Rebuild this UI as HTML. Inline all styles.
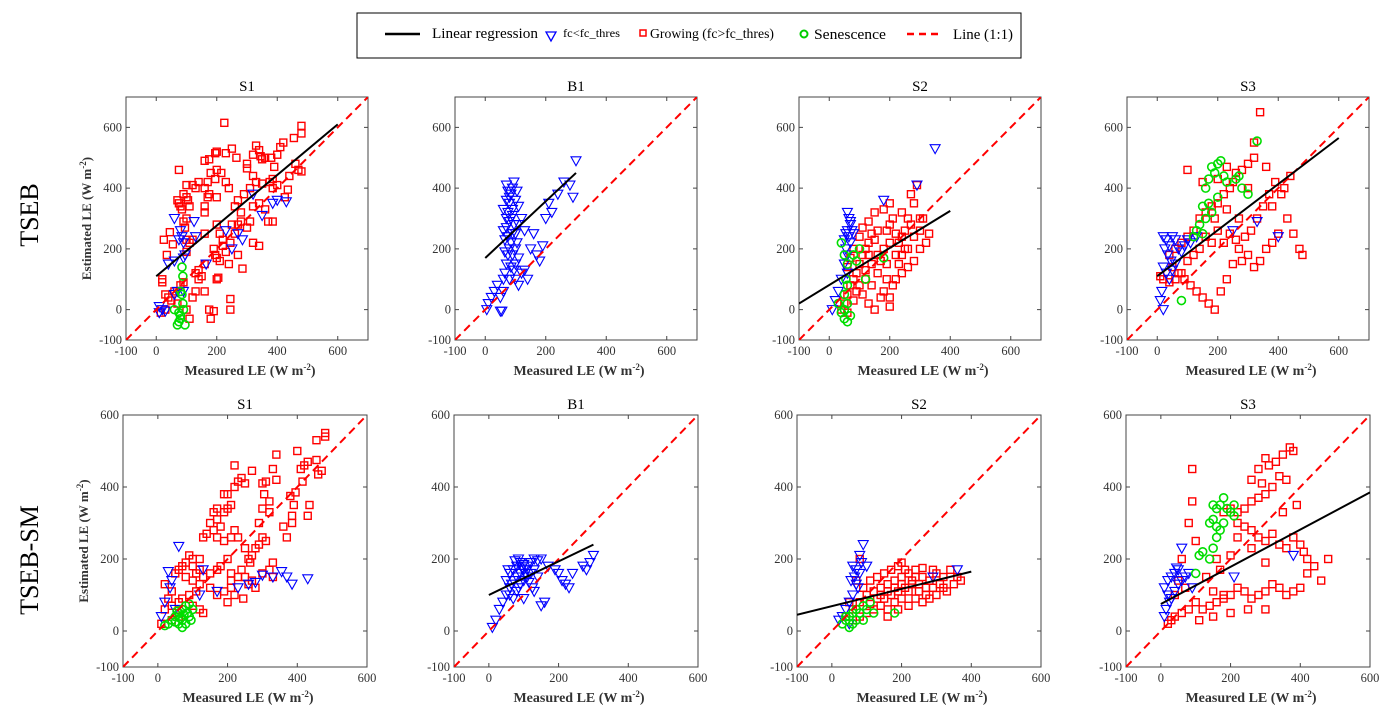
<!DOCTYPE html>
<html><head><meta charset="utf-8"><style>
html,body{margin:0;padding:0;background:#fff;}
svg{display:block;font-family:"Liberation Serif",serif;}
</style></head><body>
<svg id="fig" width="1392" height="720" viewBox="0 0 1392 720" xmlns="http://www.w3.org/2000/svg">
<g>
<rect x="357" y="13" width="664" height="45" fill="#fff" stroke="#000" stroke-width="1"/>
<line x1="385" y1="34" x2="420" y2="34" stroke="#000" stroke-width="2.5"/>
<text x="432" y="38" font-size="15" textLength="106" lengthAdjust="spacingAndGlyphs">Linear regression</text>
<polygon points="546,32 556,32 551,41" fill="none" stroke="#0000ff" stroke-width="1.3"/>
<text x="563" y="37" font-size="12" textLength="57" lengthAdjust="spacingAndGlyphs">fc&lt;fc_thres</text>
<rect x="640" y="30" width="6" height="6" fill="none" stroke="#f00" stroke-width="1.5"/>
<text x="650" y="38" font-size="14" textLength="124" lengthAdjust="spacingAndGlyphs">Growing (fc&gt;fc_thres)</text>
<circle cx="804" cy="34" r="3.5" fill="none" stroke="#0c0" stroke-width="2"/>
<text x="814" y="39" font-size="15" textLength="72" lengthAdjust="spacingAndGlyphs">Senescence</text>
<line x1="907" y1="34" x2="940" y2="34" stroke="#f00" stroke-width="2.5" stroke-dasharray="7,5"/>
<text x="953" y="39" font-size="15" textLength="60" lengthAdjust="spacingAndGlyphs">Line (1:1)</text>
</g>
<text x="38" y="215" font-size="26" text-anchor="middle" transform="rotate(-90 38 215)">TSEB</text>
<text x="38" y="560" font-size="26" text-anchor="middle" transform="rotate(-90 38 560)">TSEB-SM</text>
</svg>
<script>
// ---------- data ----------
const panelTitles = ["S1","B1","S2","S3"];
const topTicks = [-100,0,200,400,600];
const botTicks = [-100,0,200,400,600];
const topRange = [-100,700];
const botRange = [-100,600];
// regression lines [x1,y1,x2,y2]
const regTop = [[0,110,600,610],[0,170,300,450],[-100,20,400,325],[0,110,600,565]];
const regBot = [null,[0,100,300,240],[-100,45,400,165],[0,75,600,385]];

const t1Red=[[225,615],[480,605],[480,580],[455,565],[420,550],[410,535],[330,540],[340,525],[345,505],[350,495],[250,530],[230,515],[195,515],[200,520],[175,495],[160,490],[265,500],[300,480],[300,465],[320,510],[360,500],[380,500],[400,510],[460,480],[470,460],[480,455],[440,440],[435,395],[390,470],[385,430],[375,420],[350,415],[330,420],[320,440],[310,400],[290,380],[270,360],[260,340],[240,400],[230,420],[215,450],[200,460],[195,430],[180,450],[170,420],[160,400],[140,420],[120,410],[130,400],[100,410],[90,380],[75,460],[70,360],[75,350],[80,340],[85,330],[100,370],[105,360],[110,340],[100,300],[90,290],[95,270],[100,230],[110,220],[120,230],[170,370],[175,380],[160,340],[160,320],[200,370],[200,280],[210,250],[220,230],[190,200],[195,180],[200,170],[210,160],[220,210],[230,190],[240,150],[245,220],[260,250],[250,280],[280,320],[280,290],[270,280],[270,180],[300,270],[310,290],[320,220],[340,210],[320,340],[340,350],[360,330],[370,290],[385,290],[385,400],[400,410],[425,370],[160,250],[160,150],[140,130],[130,120],[140,100],[150,110],[160,60],[130,60],[120,40],[110,-30],[180,-30],[175,0],[190,-5],[245,35],[245,0],[100,0],[60,60],[40,40],[30,50],[20,100],[20,90],[45,255],[25,230],[35,180],[55,215],[285,135],[200,100],[205,105],[90,90],[80,80],[30,0],[15,-10],[50,30],[70,20],[100,190]];
const t1Blue=[[10,10],[20,0],[30,-5],[10,-10],[60,300],[80,260],[85,240],[75,230],[90,220],[125,290],[130,240],[60,160],[90,170],[95,180],[40,150],[165,150],[230,260],[250,200],[270,250],[285,230],[320,380],[350,310],[385,350],[430,355],[400,360],[90,60],[70,60],[60,50]];
const t1Green=[[85,140],[88,110],[80,60],[85,50],[60,0],[75,-10],[80,-20],[90,0],[95,-50],[70,-50],[75,-40],[88,20],[80,-30]];

const t2Red=[];
const t2Blue=[[5,0],[10,20],[20,40],[30,60],[40,80],[50,-5],[55,-5],[60,100],[65,120],[70,150],[75,180],[80,200],[85,220],[90,250],[95,280],[70,300],[75,320],[80,350],[85,380],[90,400],[95,420],[70,410],[75,390],[80,370],[85,300],[90,330],[100,360],[105,390],[110,340],[60,260],[65,230],[70,270],[75,240],[80,290],[90,180],[100,200],[100,150],[110,170],[120,120],[130,130],[140,100],[150,200],[160,250],[170,180],[180,160],[190,210],[200,300],[210,350],[220,320],[240,380],[260,420],[280,410],[300,490],[290,370],[120,300],[130,260],[110,280],[60,60],[50,40],[100,100],[110,80],[85,140],[95,130],[80,100],[65,190],[60,330],[70,360],[100,250],[90,310],[105,220]];
const t2Green=[];

const t3Red=[[40,0],[50,20],[60,50],[70,80],[80,100],[90,120],[100,150],[110,180],[120,200],[130,220],[140,250],[150,230],[160,180],[170,160],[180,200],[190,260],[200,280],[210,300],[220,250],[230,220],[240,180],[250,260],[260,300],[270,380],[280,350],[290,410],[300,300],[200,350],[180,330],[150,320],[130,290],[110,270],[100,240],[80,200],[70,170],[60,140],[120,100],[140,80],[160,120],[180,60],[200,40],[210,80],[220,100],[240,120],[260,140],[280,160],[300,200],[320,220],[330,250],[250,200],[230,150],[190,100],[170,40],[150,0],[130,20],[110,50],[90,60],[160,260],[200,220],[220,180],[260,200],[240,240],[280,240],[300,260],[310,300],[190,150],[140,150],[120,130],[100,80],[80,30],[60,-10],[200,10],[130,180],[240,320],[270,280]];
const t3Blue=[[60,320],[65,300],[70,280],[60,260],[55,250],[50,230],[55,200],[60,180],[70,220],[65,240],[50,150],[60,120],[40,100],[30,60],[20,30],[10,0],[350,530],[290,410],[180,360],[80,250],[75,260],[70,290]];
const t3Green=[[40,220],[50,180],[60,150],[80,180],[90,160],[100,200],[55,100],[60,80],[50,50],[60,20],[40,-10],[50,-30],[60,-40],[70,-20],[30,20],[180,170],[120,100],[50,0]];

const t4Red=[[340,650],[320,500],[300,480],[280,460],[260,450],[250,420],[240,400],[220,380],[200,350],[180,340],[160,320],[140,300],[120,260],[100,240],[80,220],[60,200],[40,180],[50,140],[70,120],[90,100],[110,80],[130,60],[150,40],[170,20],[190,0],[210,60],[230,100],[250,150],[270,200],[290,240],[310,260],[330,300],[350,340],[370,380],[390,420],[410,380],[430,300],[450,250],[470,200],[480,180],[400,250],[380,220],[360,200],[340,160],[320,140],[300,180],[280,160],[260,230],[240,250],[220,220],[200,260],[180,220],[160,240],[140,200],[120,180],[100,160],[80,120],[60,100],[40,90],[20,100],[10,110],[100,460],[150,420],[200,430],[230,470],[300,400],[320,550],[360,470],[420,400],[440,440],[380,340],[270,300],[230,330],[190,300]];
const t4Blue=[[20,240],[30,230],[40,210],[25,200],[35,180],[45,160],[20,140],[30,120],[40,100],[15,60],[10,30],[20,0],[50,240],[60,230],[70,200],[80,190],[90,210],[100,230],[110,220],[60,150],[50,130],[130,240],[250,260],[330,290],[400,240]];
const t4Green=[[330,555],[210,490],[200,480],[180,470],[170,430],[160,400],[190,450],[220,440],[230,420],[260,430],[270,440],[280,400],[300,380],[170,350],[150,340],[160,300],[140,280],[130,260],[120,240],[150,250],[80,30],[200,370],[180,320]];

const b1Red=[[480,550],[480,540],[455,530],[470,445],[460,435],[455,475],[430,470],[420,460],[400,500],[410,450],[415,415],[395,385],[380,375],[390,350],[435,350],[430,320],[385,320],[385,300],[370,260],[360,290],[340,490],[330,450],[340,420],[310,415],[300,410],[305,380],[320,360],[320,330],[300,340],[290,300],[300,260],[310,250],[290,240],[280,230],[270,210],[260,200],[250,230],[265,190],[230,415],[240,425],[270,445],[220,460],[250,410],[220,400],[200,380],[190,380],[210,350],[200,340],[190,330],[170,340],[160,330],[170,310],[150,300],[160,280],[140,270],[130,260],[170,260],[180,290],[220,280],[230,260],[210,260],[190,250],[180,180],[170,170],[150,160],[130,150],[150,120],[170,100],[190,110],[210,120],[210,140],[230,150],[240,170],[250,150],[260,130],[280,120],[220,100],[200,80],[245,90],[100,200],[90,210],[80,190],[70,180],[60,170],[50,160],[80,150],[100,140],[120,130],[110,110],[90,100],[70,90],[60,80],[40,70],[20,60],[30,90],[40,110],[20,130],[10,20],[40,30],[60,40],[100,70],[120,60],[130,50],[270,140],[300,160],[320,170],[330,150],[200,200],[210,160],[120,170],[120,200],[100,180],[110,160],[330,190]];
const b1Blue=[[60,235],[30,165],[40,140],[35,120],[20,80],[10,40],[300,155],[330,150],[355,165],[370,150],[385,130],[430,145],[230,120],[260,130],[280,135],[170,110],[120,100],[130,170],[50,60]];
const b1Green=[[20,15],[30,20],[40,30],[50,40],[60,50],[70,60],[80,70],[90,75],[70,30],[80,20],[90,40],[60,20],[50,25],[100,60],[85,50],[75,45],[65,35],[55,55],[95,30],[70,10]];

const b2Red=[];
const b2Blue=[[10,10],[20,30],[30,60],[40,80],[50,100],[60,120],[70,140],[80,150],[90,160],[100,170],[110,180],[120,190],[130,200],[140,195],[150,200],[60,160],[70,170],[80,180],[90,190],[100,185],[110,170],[60,100],[70,90],[80,110],[90,130],[100,140],[110,150],[120,160],[130,170],[140,150],[50,140],[55,170],[75,195],[85,200],[95,175],[105,160],[115,135],[125,120],[65,130],[85,120],[150,70],[160,80],[200,160],[210,140],[220,130],[230,120],[240,160],[270,180],[290,190],[300,210],[280,170],[100,90],[130,110],[190,170],[170,180]];
const b2Green=[];

const b3Red=[[40,40],[60,60],[80,80],[100,100],[120,110],[140,120],[160,130],[180,140],[200,150],[220,160],[240,170],[260,150],[280,140],[300,160],[320,150],[340,170],[360,150],[370,140],[150,90],[170,100],[190,110],[210,120],[230,130],[250,110],[270,100],[290,120],[310,130],[330,110],[120,60],[140,70],[160,60],[180,80],[200,90],[220,70],[240,90],[260,80],[280,90],[300,100],[100,50],[80,40],[60,30],[90,120],[110,140],[130,150],[150,160],[170,170],[190,180],[210,170],[230,140],[250,130],[200,190],[80,200],[70,140],[50,80],[160,40],[190,60],[220,110],[270,120],[320,120],[350,130],[180,120],[130,90],[110,75],[240,150],[290,170],[260,175],[200,130],[160,110],[140,100]];
const b3Blue=[[60,180],[70,170],[80,160],[65,150],[55,140],[70,130],[75,120],[60,100],[50,80],[40,60],[30,40],[20,30],[80,210],[90,240],[360,170],[290,150],[100,180],[50,20],[85,190]];
const b3Green=[[30,20],[40,30],[50,40],[60,50],[70,60],[80,50],[90,70],[100,60],[120,50],[180,50],[60,20],[50,10],[70,30],[40,40],[110,80],[90,30]];

const b4Red=[[370,510],[380,500],[350,490],[330,470],[310,460],[300,480],[280,450],[260,420],[290,410],[340,430],[360,420],[320,400],[300,380],[280,370],[260,360],[240,340],[220,330],[200,340],[180,330],[220,300],[240,290],[260,280],[280,260],[300,250],[320,270],[340,240],[360,230],[380,260],[400,240],[410,220],[420,200],[440,180],[460,140],[480,200],[420,160],[400,120],[380,110],[360,100],[340,120],[320,130],[300,110],[280,100],[260,90],[240,110],[220,120],[200,100],[180,90],[160,80],[140,70],[120,60],[100,80],[80,60],[60,50],[40,40],[30,30],[20,20],[90,450],[90,360],[80,300],[100,250],[60,200],[50,140],[40,100],[70,120],[150,110],[180,100],[250,60],[200,50],[150,40],[110,30],[220,260],[260,230],[300,190],[200,210],[160,200],[350,330],[390,350],[300,60],[130,150],[170,170]];
const b4Blue=[[60,230],[50,170],[40,160],[30,150],[20,140],[10,120],[20,100],[30,90],[40,110],[50,130],[60,140],[70,150],[25,80],[15,60],[10,40],[80,160],[90,120],[380,210],[210,150],[45,175]];
const b4Green=[[150,350],[160,340],[170,350],[180,370],[190,340],[200,330],[210,320],[150,310],[140,300],[160,290],[170,280],[180,300],[110,210],[120,220],[100,160],[150,230],[140,200],[160,260],[210,350]];

// ---------- drawing ----------
const NS="http://www.w3.org/2000/svg";
const svg=document.getElementById('fig');
function mk(tag,attrs,parent){const e=document.createElementNS(NS,tag);for(const k in attrs)e.setAttribute(k,attrs[k]);(parent||svg).appendChild(e);return e;}

const topLayout=[[126,97],[455,97],[799,97],[1127,97]];
const botLayout=[[123,415],[454,415],[797,415],[1126,415]];

function panel(px,py,w,h,range,ticks,title,red,blue,green,reg,showY,row){
  const g=mk('g',{});
  
  
  const sx=v=>px+(v-range[0])/(range[1]-range[0])*w;
  const sy=v=>py+h-(v-range[0])/(range[1]-range[0])*h;
  const clip='c'+row+title;
  const cp=mk('clipPath',{id:clip},g);mk('rect',{x:px,y:py,width:w,height:h},cp);
  mk('rect',{x:px,y:py,width:w,height:h,fill:'#fff',stroke:'#444','stroke-width':1},g);
  const t=mk('text',{x:px+w/2,y:py-6,'font-size':15,'text-anchor':'middle'},g);t.textContent=title;
  
  
  ticks.forEach(v=>{
    const X=sx(v),Y=sy(v);
    mk('line',{x1:X,y1:py+h,x2:X,y2:py+h-4,stroke:'#444'},g);
    mk('line',{x1:X,y1:py,x2:X,y2:py+4,stroke:'#444'},g);
    mk('line',{x1:px,y1:Y,x2:px+4,y2:Y,stroke:'#444'},g);
    mk('line',{x1:px+w,y1:Y,x2:px+w-4,y2:Y,stroke:'#444'},g);
    const tx=mk('text',{x:X,y:py+h+15,'font-size':12.5,'text-anchor':'middle',fill:'#333'},g);tx.textContent=v;
    
    
    const ty=mk('text',{x:px-4,y:Y+4,'font-size':12.5,'text-anchor':'end',fill:'#333'},g);ty.textContent=v;
    
    
  });
  const xt=mk('text',{x:px+w/2+3,y:py+h+35,'font-size':14,'font-weight':'bold','text-anchor':'middle',fill:'#333'},g);
  xt.innerHTML='Measured LE (W m<tspan dy="-5" font-size="9">-2</tspan><tspan dy="5">)</tspan>';
  
  
  if(showY){
    const cx=px-35,cy=py+h/2;
    const yt=mk('text',{x:cx,y:cy,'font-size':13,'font-weight':'bold','text-anchor':'middle',fill:'#333',transform:`rotate(-90 ${cx} ${cy})`},g);
    yt.innerHTML='Estimated LE (W m<tspan dy="-5" font-size="9">-2</tspan><tspan dy="5">)</tspan>';
    
    
  }
  const pg=mk('g',{'clip-path':`url(#${clip})`},g);
  red.forEach(p=>{const r=mk('rect',{x:sx(p[0])-3.5,y:sy(p[1])-3.5,width:7,height:7,fill:'none',stroke:'#f00','stroke-width':1.4},pg);
    
    });
  blue.forEach(p=>{const X=sx(p[0]),Y=sy(p[1]);const r=mk('polygon',{points:`${X-5},${Y-4} ${X+5},${Y-4} ${X},${Y+5}`,fill:'none',stroke:'#00f','stroke-width':1.1},pg);
    
    });
  green.forEach(p=>{const r=mk('circle',{cx:sx(p[0]),cy:sy(p[1]),r:4,fill:'none',stroke:'#0d0','stroke-width':1.6},pg);
    
    });
  const d=mk('line',{x1:sx(range[0]),y1:sy(range[0]),x2:sx(range[1]),y2:sy(range[1]),stroke:'#f00','stroke-width':2,'stroke-dasharray':'8,5'},pg);
  
  
  if(reg){const l=mk('line',{x1:sx(reg[0]),y1:sy(reg[1]),x2:sx(reg[2]),y2:sy(reg[3]),stroke:'#000','stroke-width':2},pg);
    
    }
}
const topData=[[t1Red,t1Blue,t1Green],[t2Red,t2Blue,t2Green],[t3Red,t3Blue,t3Green],[t4Red,t4Blue,t4Green]];
const botData=[[b1Red,b1Blue,b1Green],[b2Red,b2Blue,b2Green],[b3Red,b3Blue,b3Green],[b4Red,b4Blue,b4Green]];
for(let i=0;i<4;i++){
  panel(topLayout[i][0],topLayout[i][1],242,243,topRange,topTicks,panelTitles[i],...topData[i],regTop[i],i===0,'tseb');
  panel(botLayout[i][0],botLayout[i][1],244,252,botRange,botTicks,panelTitles[i],...botData[i],regBot[i],i===0,'tseb-sm');
}
</script>
</body></html>
